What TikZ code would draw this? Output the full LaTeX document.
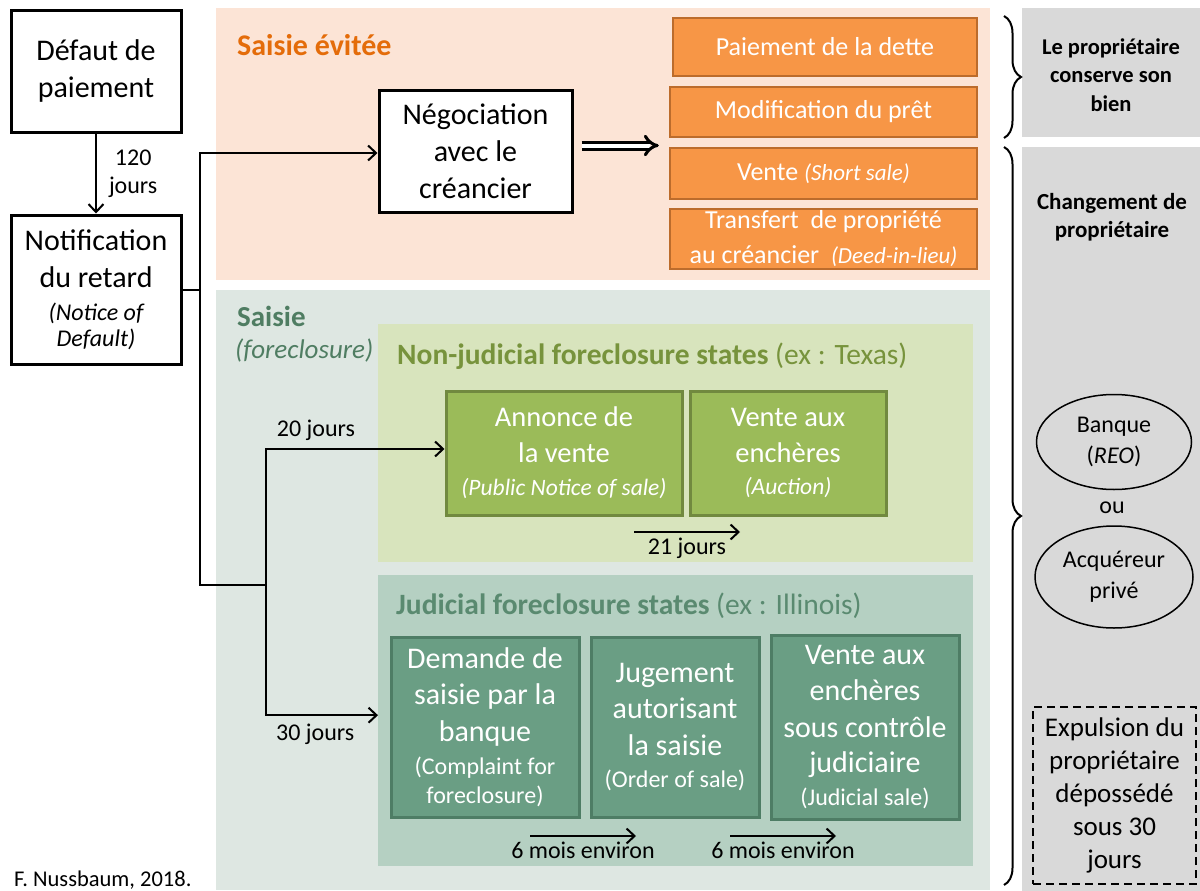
\documentclass[tikz,border=0pt]{standalone}
\usepackage{fontspec}
\setmainfont{Carlito}
\usetikzlibrary{arrows.meta,decorations.pathreplacing,shapes.geometric}
\definecolor{peachfill}{HTML}{FCE4D6}
\definecolor{saisiefill}{HTML}{DEE7E2}
\definecolor{nonjudfill}{HTML}{D8E4BD}
\definecolor{judfill}{HTML}{B5D0C2}
\definecolor{orangefill}{HTML}{F79646}
\definecolor{orangeline}{HTML}{BC6C2C}
\definecolor{greenfill}{HTML}{9BBB59}
\definecolor{greenline}{HTML}{71893F}
\definecolor{tealfill}{HTML}{6A9E84}
\definecolor{tealline}{HTML}{4E7D65}
\definecolor{grayfill}{HTML}{D9D9D9}
\definecolor{orangetitle}{HTML}{E46C0A}
\definecolor{saisietitle}{HTML}{4F7D62}
\definecolor{nonjudtitle}{HTML}{77933C}
\definecolor{judtitle}{HTML}{5A8A70}
\begin{document}
\begin{tikzpicture}[x=1pt, y=-1pt,
    every node/.style={inner sep=0pt, align=center},
    blackbox/.style={draw, line width=3pt, fill=white, font=\fontsize{30}{37}\selectfont},
    orangebox/.style={draw=orangeline, line width=2.5pt, fill=orangefill, text=white, font=\fontsize{26}{31}\selectfont},
    greenbox/.style={draw=greenline, line width=3pt, fill=greenfill, text=white, font=\fontsize{28.5}{36}\selectfont},
    tealbox/.style={draw=tealline, line width=3pt, fill=tealfill, text=white, font=\fontsize{30}{36.5}\selectfont},
    region/.style={anchor=north west},
    owner/.style={draw, ellipse, line width=1.5pt, font=\fontsize{24}{31}\selectfont},
    flow/.style={line width=2pt, -{Straight Barb[length=8pt, width=15pt]}},
    bracedeco/.style={decorate, decoration={brace, amplitude=17pt}, line width=2pt},
    lbl/.style={font=\fontsize{24}{28}\selectfont}]
    \useasboundingbox (0,0) rectangle (1200,891);
    % background areas
    \node[region, fill=peachfill, minimum width=774pt, minimum height=272pt] (evitee) at (216,8) {};
    \node[region, fill=saisiefill, minimum width=774pt, minimum height=600pt] (saisie) at (216,290) {};
    \node[region, fill=nonjudfill, minimum width=595pt, minimum height=238pt] (nonjud) at (378,324) {};
    \node[region, fill=judfill, minimum width=595pt, minimum height=291pt] (jud) at (378,575) {};
    \node[region, fill=grayfill, minimum width=178pt, minimum height=129pt] (garde) at (1022,8) {};
    \node[region, fill=grayfill, minimum width=178pt, minimum height=744pt] (change) at (1022,147) {};
    % titles
    \node[anchor=west, text=orangetitle, font=\fontsize{30}{36}\selectfont\bfseries] at (237,45) {Saisie évitée};
    \node[anchor=west, text=saisietitle, font=\fontsize{29}{35}\selectfont\bfseries] at (237,316) {Saisie};
    \node[anchor=west, text=saisietitle, font=\fontsize{27}{33}\selectfont\itshape] at (235,350) {(foreclosure)};
    \node[anchor=west, text=nonjudtitle, font=\fontsize{29.5}{35}\selectfont] at (397,356) {\textbf{Non-judicial foreclosure states} (ex : Texas)};
    \node[anchor=west, text=judtitle, font=\fontsize{29.5}{35}\selectfont] at (396,606) {\textbf{Judicial foreclosure states} (ex : Illinois)};
    % left column
    \node[blackbox, minimum width=170pt, minimum height=121pt] (defaut) at (96,71.5) {Défaut de\\paiement};
    \node[blackbox, minimum width=170pt, minimum height=149pt] (notif) at (96,289.5)
        {Notification\\du retard\\[-4pt]{\fontsize{24}{28}\selectfont\itshape(Notice of}\\[-11pt]{\fontsize{24}{28}\selectfont\itshape Default)}};
    \draw[flow] (defaut) -- (notif) node[midway, right=12pt, lbl] {120\\jours};
    \node[blackbox, minimum width=193pt, minimum height=121pt] (nego) at (475.5,151.5) {Négociation\\avec le\\créancier};
    % orange outcomes
    \node[orangebox, minimum width=304pt, minimum height=58pt] (paiement) at (825,47) {Paiement de la dette};
    \node[orangebox, minimum width=307pt, minimum height=50pt] (modif) at (823.5,112) {Modification du prêt};
    \node[orangebox, minimum width=307pt, minimum height=51pt] (vente) at (823.5,173.5) {Vente {\fontsize{23}{28}\selectfont\itshape (Short sale)}};
    \node[orangebox, minimum width=307pt, minimum height=60pt] (transfert) at (823.5,239)
        {Transfert~ de propriété\\[4pt]au créancier~ {\fontsize{23}{28}\selectfont\itshape(Deed-in-lieu)}};
    \draw[double, double distance=4pt, line width=3pt, -{Implies}, shorten <=8pt, shorten >=10pt] ([yshift=6pt]nego.east) -- ([yshift=6pt]nego.east -| vente.west);
    % non-judicial steps
    \node[greenbox, minimum width=236pt, minimum height=124pt] (annonce) at (564,453)
        {Annonce de\\la vente\\[-3pt]{\fontsize{23.5}{28}\selectfont\itshape(Public Notice of sale)}};
    \node[greenbox, minimum width=196pt, minimum height=124pt] (auction) at (788,453)
        {Vente aux\\enchères\\[-4pt]{\fontsize{23.5}{28}\selectfont\itshape(Auction)}};
    \coordinate (j21a) at (634,532);
    \coordinate (j21b) at (740,532);
    \draw[flow] (j21a) -- (j21b) node[midway, below=5pt, lbl] {21 jours};
    % judicial steps
    \node[tealbox, minimum width=188pt, minimum height=180pt] (demande) at (485,727)
        {Demande de\\saisie par la\\banque\\[-3.5pt]{\fontsize{24}{28}\selectfont(Complaint for}\\[-7.5pt]{\fontsize{24}{28}\selectfont foreclosure)}};
    \node[tealbox, minimum width=168pt, minimum height=180pt] (jugement) at (675,727)
        {Jugement\\autorisant\\la saisie\\[-4.5pt]{\fontsize{24}{28}\selectfont(Order of sale)}};
    \node[tealbox, minimum width=188pt, minimum height=184pt] (judvente) at (865,727)
        {Vente aux\\enchères\\sous contrôle\\[-1.5pt]judiciaire\\[-3.5pt]{\fontsize{24}{28}\selectfont(Judicial sale)}};
    \coordinate (m6a) at (530,836);
    \coordinate (m6b) at (636,836);
    \coordinate (m6c) at (730,836);
    \coordinate (m6d) at (836,836);
    \draw[flow] (m6a) -- (m6b) node[midway, below=5pt, lbl] {6 mois environ};
    \draw[flow] (m6c) -- (m6d) node[midway, below=5pt, lbl] {6 mois environ};
    % branching connectors
    \coordinate (split) at (200,289.5);
    \coordinate (splitlow) at (200,585);
    \coordinate (branch) at (266,585);
    \draw[line width=2pt] (notif.east) -- (split);
    \draw[flow] (split) |- ([yshift=-1.5pt]nego.west);
    \draw[line width=2pt] (split) -- (splitlow) -- (branch);
    \draw[flow] (branch) |- ([yshift=4pt]annonce.west) node[pos=0.64, above=7pt, lbl] {20 jours};
    \draw[flow] (branch) |- ([yshift=5.5pt]jud.west) node[pos=0.72, below=8pt, lbl] {30 jours};
    % braces and results
    \draw[bracedeco] (1004,16) -- (1004,138);
    \draw[bracedeco] (1004,147) -- (1004,885);
    \node[font=\fontsize{22.5}{28.5}\selectfont\bfseries] (garde text) at (1111,75) {Le propriétaire\\conserve son\\bien};
    \node[font=\fontsize{23}{28}\selectfont\bfseries] (change text) at (1112,217) {Changement de\\propriétaire};
    \node[owner, minimum width=155pt, minimum height=95pt] (banque) at (1114,442) {Banque\\(\textit{REO})};
    \node[lbl] (ou) at (1112,508) {ou};
    \node[owner, minimum width=158pt, minimum height=102pt] (acquereur) at (1114,577) {Acquéreur\\privé};
    \node[draw, line width=1.5pt, dash pattern=on 8pt off 5pt, minimum width=163pt, minimum height=177pt, font=\fontsize{27}{33}\selectfont] (expulsion) at (1114.5,795.5)
        {Expulsion du\\propriétaire\\dépossédé\\sous 30\\jours};
    \node[anchor=west, font=\fontsize{22.5}{27}\selectfont] (credit) at (14,880) {F. Nussbaum, 2018.};
\end{tikzpicture}
\end{document}
